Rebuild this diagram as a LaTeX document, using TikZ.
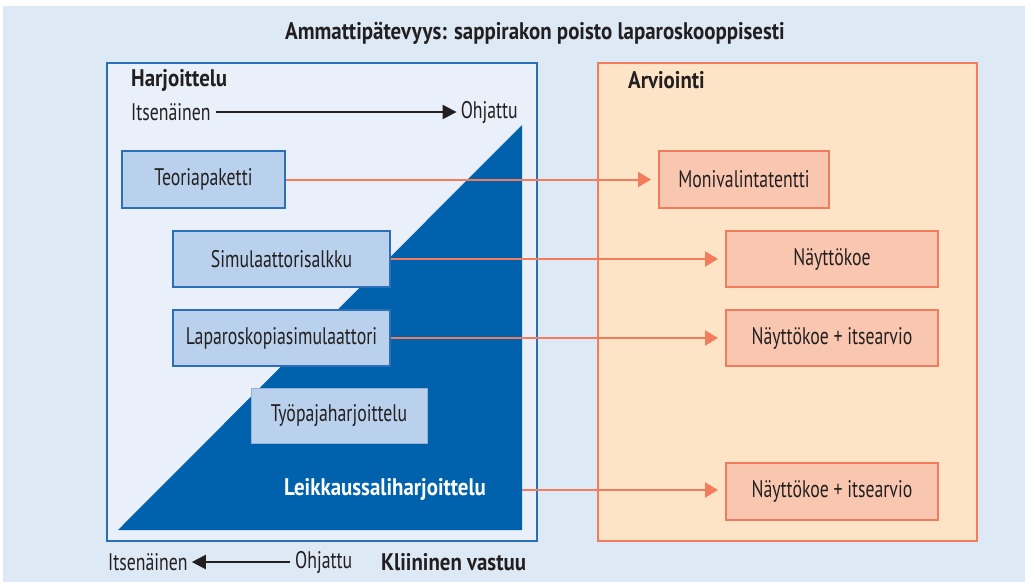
\documentclass[tikz,border=0pt]{standalone}
\usepackage{fontspec}
\setmainfont[FakeStretch=0.74,BoldFeatures={FakeStretch=0.87}]{PT Sans}
\usetikzlibrary{arrows.meta}
\definecolor{taustasin}{HTML}{DDE9F5}
\definecolor{vaaleasin}{HTML}{E9F0FA}
\definecolor{reunasin}{HTML}{2A6FB7}
\definecolor{tummasin}{HTML}{0061AC}
\definecolor{laatikkosin}{HTML}{B9D1EC}
\definecolor{persikka}{HTML}{FEE4C6}
\definecolor{lohi}{HTML}{F37C5D}
\definecolor{lohivaalea}{HTML}{F9C7B0}
\definecolor{teksti}{HTML}{231F20}
\tikzset{
  harjoitus/.style={draw=reunasin,line width=2pt,fill=laatikkosin,text=teksti,
    inner sep=0pt,font=\fontsize{24}{28}\selectfont},
  arvio/.style={draw=lohi,line width=2pt,fill=lohivaalea,text=teksti,
    inner sep=0pt,font=\fontsize{24}{28}\selectfont},
  otsikko/.style={text=teksti,inner sep=0pt,font=\fontsize{24}{28}\selectfont\bfseries},
  selite/.style={text=teksti,inner sep=0pt,font=\fontsize{24}{28}\selectfont},
  nuoli/.style={draw=lohi,line width=2pt,-{Triangle[length=13pt,width=15pt]},shorten >=7pt},
  mustanuoli/.style={draw=teksti,line width=2.2pt,-{Triangle[length=14pt,width=14pt]},shorten >=4pt,shorten <=5pt}
}
\begin{document}
\begin{tikzpicture}[x=1pt,y=-1pt]
      \useasboundingbox (0,0) rectangle (1025,582);
      \fill[taustasin] (3,6) rectangle (1025,582);

      % kehykset
      \draw[reunasin,line width=2pt,fill=vaaleasin] (107,63) rectangle (537,541);
      \draw[lohi,line width=2pt,fill=persikka] (598,63) rectangle (977,541);
      \fill[tummasin] (118,530) -- (522,530) -- (522,125) -- cycle;

      \node[otsikko] (paaotsikko) at (535,33) {Ammattipätevyys: sappirakon poisto laparoskooppisesti};
      \node[otsikko,anchor=west] (harjoittelu) at (131,80) {Harjoittelu};
      \node[otsikko,anchor=west] (arviointi) at (628,80) {Arviointi};

      \node[selite,anchor=west] (itse1) at (131,112) {Itsenäinen};
      \node[selite,anchor=east] (ohj1) at (518,112) {Ohjattu};
      \draw[mustanuoli] (itse1) -- (ohj1);

      \node[harjoitus,minimum width=163pt,minimum height=57pt] (teoria) at (203.5,179.5) {Teoriapaketti};
      \node[harjoitus,minimum width=217pt,minimum height=56pt] (salkku) at (281.5,259) {Simulaattorisalkku};
      \node[harjoitus,minimum width=217pt,minimum height=56pt] (laparo) at (281.5,338) {Laparoskopiasimulaattori};
      \node[harjoitus,draw=laatikkosin!70!reunasin,line width=1pt,minimum width=176pt,minimum height=55pt] (tyopaja) at (339,415.5) {Työpajaharjoittelu};
      \node[otsikko,text=white] (leikkaus) at (385,489) {Leikkaussaliharjoittelu};
      \coordinate (kolmioreuna) at (522,490);

      \node[arvio,minimum width=170pt,minimum height=57pt] (moni) at (744,179.5) {Monivalintatentti};
      \node[arvio,minimum width=212pt,minimum height=56pt] (nayt1) at (832,259) {Näyttökoe};
      \node[arvio,minimum width=212pt,minimum height=56pt] (nayt2) at (832,338) {Näyttökoe + itsearvio};
      \node[arvio,minimum width=212pt,minimum height=57pt] (nayt3) at (832,491) {Näyttökoe + itsearvio};

      \draw[nuoli] (teoria) -- (moni);
      \draw[nuoli] (salkku) -- (nayt1);
      \draw[nuoli] (laparo) -- (nayt2);
      \draw[nuoli] (kolmioreuna) -- (nayt3.west |- kolmioreuna);

      \node[selite,anchor=west] (itse2) at (108,562) {Itsenäinen};
      \node[selite,anchor=west] (ohj2) at (295,562) {Ohjattu};
      \draw[mustanuoli] (ohj2) -- (itse2);
      \node[otsikko,anchor=west] (vastuu) at (381,562) {Kliininen vastuu};
    \end{tikzpicture}
\end{document}
